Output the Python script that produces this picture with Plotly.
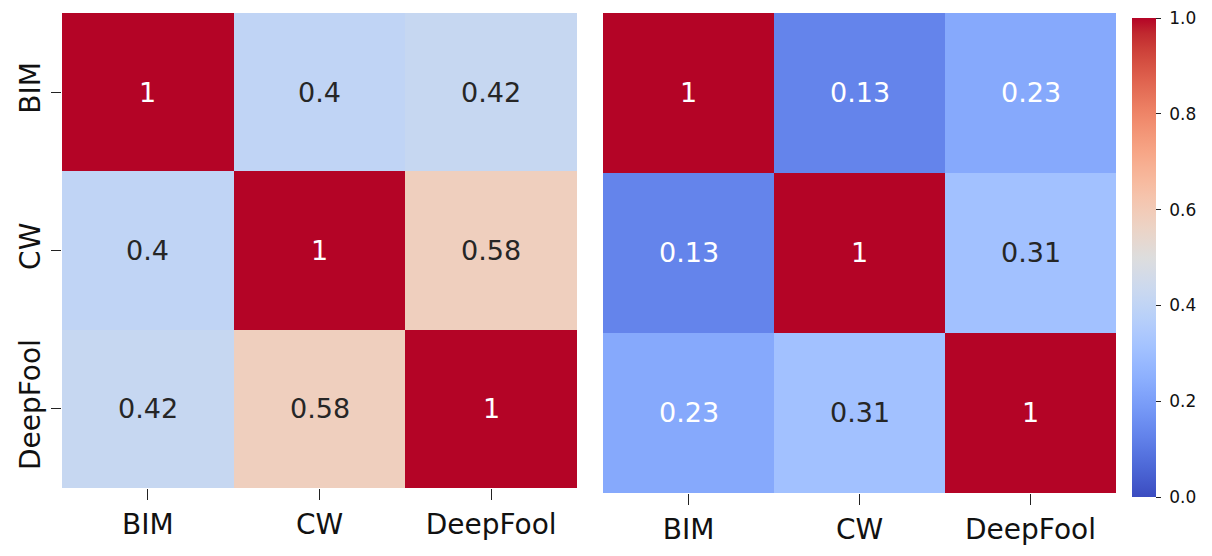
import plotly.graph_objects as go

# attack names and the two correlation matrices
labels = ["BIM", "CW", "DeepFool"]
corr_left = [
    [1.0, 0.4, 0.42],
    [0.4, 1.0, 0.58],
    [0.42, 0.58, 1.0],
]
corr_right = [
    [1.0, 0.13, 0.23],
    [0.13, 1.0, 0.31],
    [0.23, 0.31, 1.0],
]
cbar_ticks = [0.0, 0.2, 0.4, 0.6, 0.8, 1.0]

# matplotlib "coolwarm" (Moreland table)
coolwarm_rgb = [
    (59, 76, 192), (68, 90, 204), (77, 104, 215), (87, 117, 225),
    (98, 130, 234), (108, 142, 241), (119, 154, 247), (130, 165, 251),
    (141, 176, 254), (152, 185, 255), (163, 194, 255), (174, 201, 253),
    (184, 208, 249), (194, 213, 244), (204, 217, 238), (213, 219, 230),
    (221, 221, 221), (229, 216, 209), (236, 211, 197), (241, 204, 185),
    (245, 196, 173), (247, 187, 160), (247, 177, 148), (247, 166, 135),
    (244, 154, 123), (241, 141, 111), (236, 127, 99), (229, 112, 88),
    (222, 96, 77), (213, 80, 66), (203, 62, 56), (192, 40, 47),
    (180, 4, 38),
]
n = len(coolwarm_rgb) - 1
coolwarm = [[i / n, "rgb(%d,%d,%d)" % c] for i, c in enumerate(coolwarm_rgb)]

FONT = "DejaVu Sans"
W, H = 1212, 556
OFF = 8  # page body margin in the screenshot


def px_x(p):
    return (p - OFF) / W


def px_y(p):
    return 1 - (p - OFF) / H


fig = go.Figure()
fig.add_trace(go.Heatmap(z=corr_left, x=labels, y=labels, coloraxis="coloraxis",
                         xaxis="x", yaxis="y", hoverinfo="skip"))
fig.add_trace(go.Heatmap(z=corr_right, x=labels, y=labels, coloraxis="coloraxis",
                         xaxis="x2", yaxis="y2", hoverinfo="skip"))

# cell annotations, seaborn style (.2g, light text on dark cells)
for matrix, xr, yr in [(corr_left, "x", "y"), (corr_right, "x2", "y2")]:
    for i, row_name in enumerate(labels):
        for j, col_name in enumerate(labels):
            v = matrix[i][j]
            color = "white" if (v < 0.3 or v > 0.8) else "#262626"
            fig.add_annotation(x=col_name, y=row_name, xref=xr, yref=yr,
                               text=format(v, ".2g"), showarrow=False,
                               font=dict(family=FONT, size=27, color=color))

tick_common = dict(ticks="outside", ticklen=11, tickwidth=1.3, tickcolor="#222",
                   showgrid=False, zeroline=False, showline=False,
                   tickfont=dict(family=FONT, size=28, color="#111"))

fig.update_layout(
    width=W,
    height=H,
    margin=dict(l=0, r=0, t=0, b=0),
    paper_bgcolor="white",
    plot_bgcolor="white",
    showlegend=False,
    xaxis=dict(domain=[px_x(62), px_x(577)], anchor="y", **tick_common),
    yaxis=dict(domain=[px_y(488), px_y(13)], anchor="x", autorange="reversed",
               tickangle=-90, **{**tick_common, "ticklen": 10}),
    xaxis2=dict(domain=[px_x(603), px_x(1116)], anchor="y2", **tick_common),
    yaxis2=dict(domain=[px_y(493), px_y(13)], anchor="x2", autorange="reversed",
                showticklabels=False, ticks="", showgrid=False, zeroline=False),
    coloraxis=dict(
        colorscale=coolwarm,
        cmin=0,
        cmax=1.0,
        colorbar=dict(
            x=px_x(1132), xanchor="left",
            y=px_y(18), yanchor="top",
            lenmode="pixels", len=479,
            thicknessmode="pixels", thickness=24,
            outlinewidth=0,
            ticks="outside", ticklen=5, tickwidth=1.2, tickcolor="#222",
            tickvals=cbar_ticks,
            ticktext=["\u00a0%.1f" % t for t in cbar_ticks],
            ticklabeloverflow="allow",
            tickfont=dict(family=FONT, size=17, color="#111"),
            xpad=0, ypad=0,
        ),
    ),
)

fig.write_html("out.html")
